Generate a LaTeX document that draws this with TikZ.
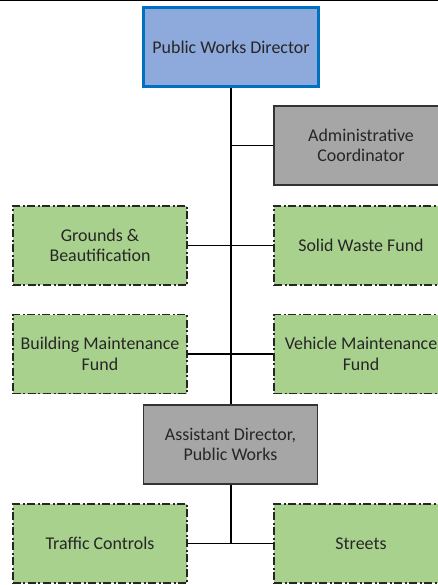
\documentclass[tikz,border=0pt]{standalone}
\usepackage{fontspec}
\setmainfont{Carlito}
\definecolor{dirfill}{HTML}{8EA9DB}
\definecolor{dirline}{HTML}{0070C0}
\definecolor{unitfill}{HTML}{A9D18E}
\definecolor{staffill}{HTML}{A6A6A6}
\definecolor{txt}{HTML}{262626}
\begin{document}
\begin{tikzpicture}[x=1bp,y=-1bp,
  box/.style={rectangle, minimum width=174bp, minimum height=79bp, inner sep=1bp,
    align=center, text=txt, font=\fontsize{18}{20.5}\selectfont},
  director/.style={box, draw=dirline, fill=dirfill, line width=3.2bp,
    minimum width=175bp, minimum height=79bp},
  staff/.style={box, draw=black!80, fill=staffill, line width=1.1bp},
  unit/.style={box, draw=black!85, fill=unitfill, line width=1.3bp,
    dash pattern=on 8bp off 2.5bp on 2bp off 2.5bp},
  link/.style={draw=black, line width=1.5bp}]
  \clip (0,0) rectangle (438,585);
  \fill[white] (0,0) rectangle (438,585);
  % rule across the top edge
  \coordinate (ruleL) at (0,0.5);
  \coordinate (ruleR) at (438,0.5);
  \draw[black, line width=1.5bp] (ruleL) -- (ruleR);

  % boxes
  \node[director] (dir)     at (231,47)    {Public Works Director};
  \node[staff]    (admin)   at (361,145.5) {Administrative\\Coordinator};
  \node[unit]     (grounds) at (100,245.5) {Grounds \&\\Beautification};
  \node[unit]     (solid)   at (361,245.5) {Solid Waste Fund};
  \node[unit]     (bldg)    at (100,354)   {Building Maintenance\\Fund};
  \node[unit]     (vehicle) at (361,354)   {Vehicle Maintenance\\Fund};
  \node[staff]    (asst)    at (230.5,444.5) {Assistant Director,\\Public Works};
  \node[unit]     (traffic) at (100,543.5) {Traffic Controls};
  \node[unit]     (streets) at (361,543.5) {Streets};

  % connectors
  \path (dir.south) coordinate (trunkTop);
  \path (asst.north -| trunkTop) coordinate (trunkBot);
  \draw[link] (trunkTop) -- (trunkBot);
  \draw[link] (admin.west) -- (admin.west -| trunkTop);
  \draw[link] (grounds.east) -- (solid.west);
  \draw[link] (bldg.east) -- (vehicle.west);
  \draw[link] (asst.south -| trunkTop) -- (traffic.east -| trunkTop);
  \draw[link] (traffic.east) -- (streets.west);
\end{tikzpicture}
\end{document}
